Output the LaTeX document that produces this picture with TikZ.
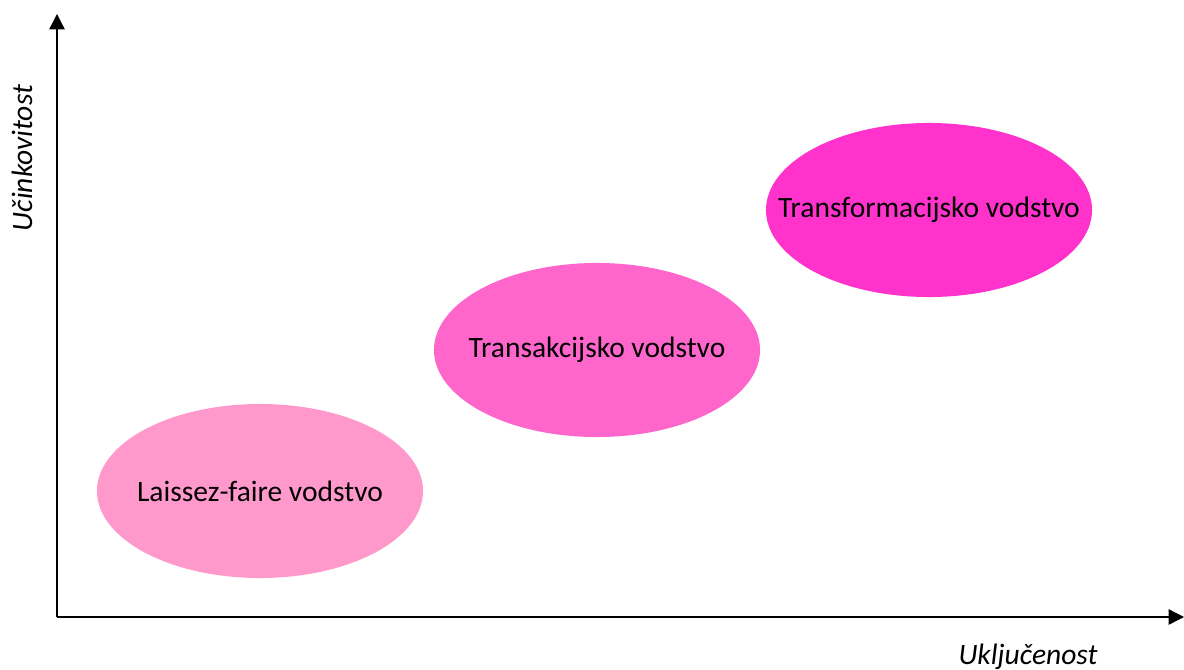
\documentclass[tikz,border=0pt]{standalone}
\usepackage{fontspec}
\setmainfont{Carlito}
\usepackage{tikz}
\usetikzlibrary{shapes.geometric, arrows.meta, positioning}
\definecolor{pinkA}{HTML}{FF99CC}
\definecolor{pinkB}{HTML}{FF66CC}
\definecolor{pinkC}{HTML}{FF33CC}

\begin{document}
\begin{tikzpicture}[
                x=0.025cm, y=-0.025cm,
                style/.style={ellipse, draw=none, minimum width=8.15cm, minimum height=4.35cm, inner sep=0pt, font=\fontsize{21}{25}\selectfont},
                axis/.style={-{Triangle[length=11pt, width=11pt]}, line width=1pt},
                axlabel/.style={font=\itshape\fontsize{21}{25}\selectfont, inner sep=0pt}
            ]
                \useasboundingbox (0,0) rectangle (1184,670);
                \coordinate (o) at (57,617);
                \coordinate (ytop) at (57,14);
                \coordinate (xend) at (1184,617);

                \draw[axis] (o) -- (ytop);
                \draw[axis] (o) -- (xend);

                \node[axlabel, rotate=90] (ylab) at (22,158) {Učinkovitost};
                \node[axlabel] (xlab) at (1028,657) {Uključenost};

                \node[style, fill=pinkA] (lf) at (260,491) {\makebox[0pt]{Laissez-faire vodstvo}};
                \node[style, fill=pinkB] (ta) at (597,350) {\makebox[0pt]{Transakcijsko vodstvo}};
                \node[style, fill=pinkC] (tf) at (929,210) {\makebox[0pt]{Transformacijsko vodstvo}};
            \end{tikzpicture}
\end{document}
